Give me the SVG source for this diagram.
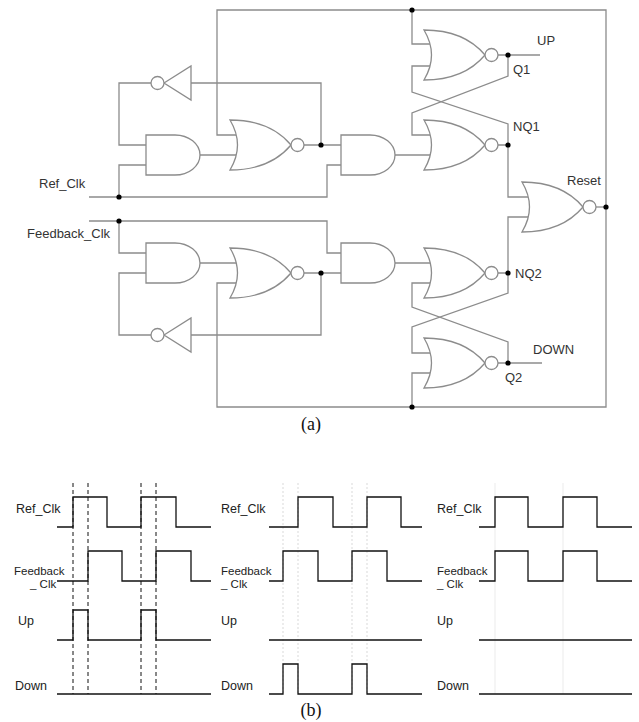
<svg xmlns="http://www.w3.org/2000/svg" xmlns:xlink="http://www.w3.org/1999/xlink" width="639" height="722" viewBox="0 0 639 722">
<style>
.w{fill:none;stroke:#8c8c8c;stroke-width:1.3;stroke-linejoin:miter}
.g{fill:#fff;stroke:#8c8c8c;stroke-width:1.3}
.dot{fill:#000}
.lbl{font-family:"Liberation Sans",Arial,sans-serif;font-size:13px;fill:#333}
.wl{font-family:"Liberation Sans",Arial,sans-serif;font-size:12.5px;fill:#222}
.fb{font-size:11.5px}
.cap{font-family:"Liberation Serif","Times New Roman",serif;font-size:18px;fill:#111;text-anchor:middle}
.sig{fill:none;stroke:#111;stroke-width:1.3}
.dash{fill:none;stroke:#111;stroke-width:1;stroke-dasharray:4,3}
.faint{fill:none;stroke:#cfcfcf;stroke-width:0.8;stroke-dasharray:2,2}
.faint2{fill:none;stroke:#e6e6e6;stroke-width:0.8}
</style>
<defs>
<g id="nor"><path class="g" d="M0,-25 Q15,0 0,25 Q40,25 61,0 Q40,-25 0,-25 Z"/><circle class="g" cx="67.5" cy="0" r="6.5"/></g>
<path id="and" class="g" d="M0,0 H29 A25,20 0 0 1 29,40 H0 Z"/>
<g id="inv"><path class="g" d="M0,0 L27,-17 L27,17 Z"/><circle class="g" cx="-6.5" cy="0" r="6.5"/></g>
</defs>

<g id="connectors">
<path class="w" d="M236,135 H217 V10 H606 V407 H217 V283 H236"/>
<path class="w" d="M412,10 V44 H430"/>
<path class="w" d="M430,66 H412 V92 L508,124 V145"/>
<path class="w" d="M430,135 H412 V113 L508,76 V55"/>
<path class="w" d="M498,55 H540"/>
<path class="w" d="M498,145 H508 V197 H528"/>
<path class="w" d="M498,273 H508 V217 H528"/>
<path class="w" d="M596,207 H606"/>
<path class="w" d="M304,145 H341"/>
<path class="w" d="M321,145 V83 H191"/>
<path class="w" d="M151,83 H119 V145 H146"/>
<path class="w" d="M200,155 H236"/>
<path class="w" d="M89,197 H327 V165 H341"/>
<path class="w" d="M119,197 V165 H146"/>
<path class="w" d="M395,155 H430"/>
<path class="w" d="M89,221 H327 V253 H341"/>
<path class="w" d="M119,221 V253 H146"/>
<path class="w" d="M200,263 H236"/>
<path class="w" d="M146,273 H119 V335 H151"/>
<path class="w" d="M191,335 H321 V273"/>
<path class="w" d="M304,273 H341"/>
<path class="w" d="M395,263 H430"/>
<path class="w" d="M430,283 H412 V307 L508,342 V363"/>
<path class="w" d="M430,353 H412 V327 L508,293 V273"/>
<path class="w" d="M430,373 H412 V407"/>
<path class="w" d="M498,363 H542"/>
<circle class="dot" cx="119" cy="197" r="2.6"/>
<circle class="dot" cx="119" cy="221" r="2.6"/>
<circle class="dot" cx="321" cy="145" r="2.6"/>
<circle class="dot" cx="321" cy="273" r="2.6"/>
<circle class="dot" cx="412" cy="10" r="2.6"/>
<circle class="dot" cx="412" cy="407" r="2.6"/>
<circle class="dot" cx="508" cy="55" r="2.6"/>
<circle class="dot" cx="508" cy="145" r="2.6"/>
<circle class="dot" cx="508" cy="273" r="2.6"/>
<circle class="dot" cx="508" cy="363" r="2.6"/>
<circle class="dot" cx="606" cy="207" r="2.6"/>
</g>

<g id="inv1"><use xlink:href="#inv" transform="translate(164,83)"/></g>
<g id="and1"><use xlink:href="#and" transform="translate(146,135)"/></g>
<g id="nor1"><use xlink:href="#nor" transform="translate(230,145)"/></g>
<g id="and2"><use xlink:href="#and" transform="translate(341,135)"/></g>
<g id="norQ1"><use xlink:href="#nor" transform="translate(424,55)"/></g>
<g id="norNQ1"><use xlink:href="#nor" transform="translate(424,145)"/></g>
<g id="norReset"><use xlink:href="#nor" transform="translate(522,207)"/></g>
<g id="and3"><use xlink:href="#and" transform="translate(146,243)"/></g>
<g id="nor3"><use xlink:href="#nor" transform="translate(230,273)"/></g>
<g id="inv2"><use xlink:href="#inv" transform="translate(164,335)"/></g>
<g id="and4"><use xlink:href="#and" transform="translate(341,243)"/></g>
<g id="norNQ2"><use xlink:href="#nor" transform="translate(424,273)"/></g>
<g id="norQ2"><use xlink:href="#nor" transform="translate(424,363)"/></g>

<g id="circuit-labels">
<text class="lbl" x="39" y="188">Ref_Clk</text>
<text class="lbl" x="27" y="238">Feedback_Clk</text>
<text class="lbl" x="537" y="45">UP</text>
<text class="lbl" x="513" y="74">Q1</text>
<text class="lbl" x="513" y="131">NQ1</text>
<text class="lbl" x="567" y="185">Reset</text>
<text class="lbl" x="515" y="278">NQ2</text>
<text class="lbl" x="533" y="354">DOWN</text>
<text class="lbl" x="505" y="382">Q2</text>
<text class="cap" x="311" y="430">(a)</text>
</g>

<g id="waveforms">
<path class="dash" d="M73,483 V694 M88,483 V694 M141,483 V694 M156,483 V694"/>
<path class="sig" d="M57,527 H73 V497 H107 V527 H141 V497 H176 V527 H211"/>
<path class="sig" d="M57,581 H88 V551 H122 V581 H156 V551 H191 V581 H211"/>
<path class="sig" d="M57,640 H73 V610 H88 V640 H141 V610 H156 V640 H211"/>
<path class="sig" d="M57,694 H211"/>
<text class="wl" x="16" y="513">Ref_Clk</text>
<text class="wl fb" x="14" y="575">Feedback</text>
<text class="wl fb" x="30" y="588">_ Clk</text>
<text class="wl" x="18" y="625">Up</text>
<text class="wl" x="15" y="690">Down</text>

<path class="faint" d="M283,483 V694 M298,483 V694 M352,483 V694 M367,483 V694"/>
<path class="sig" d="M269,527 H298 V497 H333 V527 H367 V497 H401 V527 H422"/>
<path class="sig" d="M269,581 H283 V551 H318 V581 H352 V551 H387 V581 H422"/>
<path class="sig" d="M269,640 H422"/>
<path class="sig" d="M269,694 H283 V664 H298 V694 H352 V664 H367 V694 H422"/>
<text class="wl" x="221" y="513">Ref_Clk</text>
<text class="wl fb" x="221" y="575">Feedback</text>
<text class="wl fb" x="221" y="588">_ Clk</text>
<text class="wl" x="221" y="625">Up</text>
<text class="wl" x="221" y="690">Down</text>

<path class="faint2" d="M495,483 V694 M563,483 V694"/>
<path class="sig" d="M479,527 H495 V497 H528 V527 H563 V497 H597 V527 H632"/>
<path class="sig" d="M479,581 H495 V551 H528 V581 H563 V551 H597 V581 H632"/>
<path class="sig" d="M479,640 H632"/>
<path class="sig" d="M479,694 H632"/>
<text class="wl" x="437" y="513">Ref_Clk</text>
<text class="wl fb" x="437" y="575">Feedback</text>
<text class="wl fb" x="437" y="588">_ Clk</text>
<text class="wl" x="437" y="625">Up</text>
<text class="wl" x="437" y="690">Down</text>
<text class="cap" x="311" y="716">(b)</text>
</g>
</svg>
